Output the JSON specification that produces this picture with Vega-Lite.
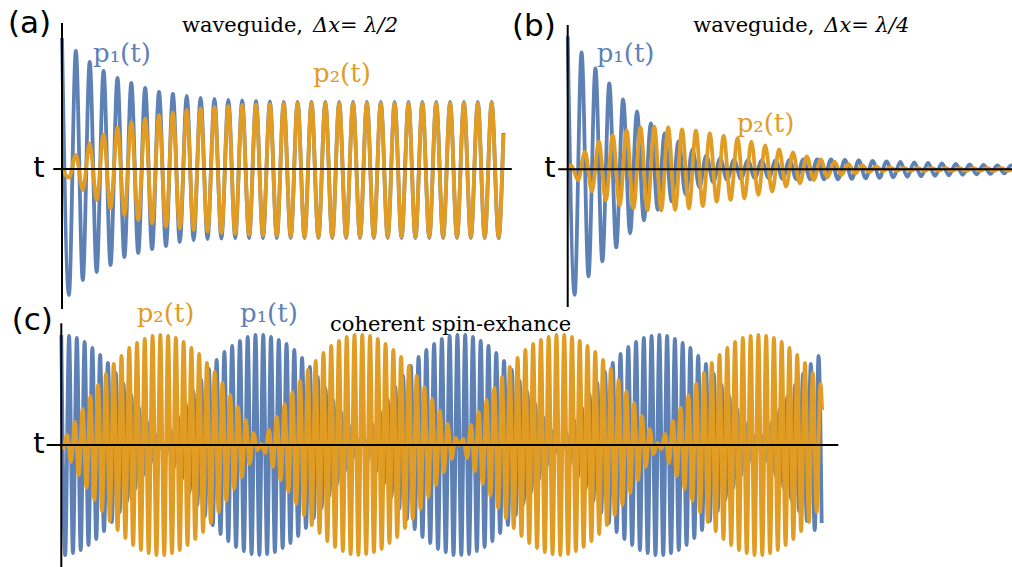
{
"$schema": "https://vega.github.io/schema/vega-lite/v6.json",
"width": 1012,
"height": 567,
"padding": 0,
"autosize": {"type": "none"},
"config": {"view": {"stroke": null}, "line": {"interpolate": "monotone", "strokeWidth": 3.8}, "rule": {"strokeWidth": 2, "color": "black"}},
"resolve": {"scale": {"x": "independent", "y": "independent"}},
"datasets": {
"a1": [{"t":0,"v":131},{"t":0.5,"v":-126},{"t":1,"v":118},{"t":1.5,"v":-111},{"t":2,"v":107},{"t":2.5,"v":-103},{"t":3,"v":98},{"t":3.5,"v":-96},{"t":4,"v":91},{"t":4.5,"v":-88},{"t":5,"v":86},{"t":5.5,"v":-84},{"t":6,"v":81},{"t":6.5,"v":-80},{"t":7,"v":77},{"t":7.5,"v":-77},{"t":8,"v":75},{"t":8.5,"v":-73},{"t":9,"v":73},{"t":9.5,"v":-71},{"t":10,"v":71},{"t":10.5,"v":-70},{"t":11,"v":70},{"t":11.5,"v":-69.5},{"t":12,"v":69},{"t":12.5,"v":-69},{"t":13,"v":68.5},{"t":13.5,"v":-69},{"t":14,"v":68},{"t":14.5,"v":-69},{"t":15,"v":67.5},{"t":15.5,"v":-69},{"t":16,"v":67},{"t":16.5,"v":-69},{"t":17,"v":67},{"t":17.5,"v":-69},{"t":18,"v":67},{"t":18.5,"v":-69},{"t":19,"v":67},{"t":19.5,"v":-69},{"t":20,"v":67},{"t":20.5,"v":-69},{"t":21,"v":67},{"t":21.5,"v":-69},{"t":22,"v":67},{"t":22.5,"v":-69},{"t":23,"v":67},{"t":23.5,"v":-69},{"t":24,"v":67},{"t":24.5,"v":-69},{"t":25,"v":67},{"t":25.5,"v":-69},{"t":26,"v":67},{"t":26.5,"v":-69},{"t":27,"v":67},{"t":27.5,"v":-69},{"t":28,"v":67},{"t":28.5,"v":-69},{"t":29,"v":67},{"t":29.5,"v":-69},{"t":30,"v":67},{"t":30.5,"v":-69},{"t":31,"v":67},{"t":31.5,"v":-69},{"t":31.85,"v":36}],
"a2": [{"t":0,"v":0},{"t":0.5,"v":-8.7},{"t":1,"v":14},{"t":1.5,"v":-21},{"t":2,"v":25.7},{"t":2.5,"v":-31},{"t":3,"v":34.7},{"t":3.5,"v":-39.3},{"t":4,"v":41.3},{"t":4.5,"v":-46},{"t":5,"v":46.7},{"t":5.5,"v":-51},{"t":6,"v":50.7},{"t":6.5,"v":-54.3},{"t":7,"v":54},{"t":7.5,"v":-57.7},{"t":8,"v":56.7},{"t":8.5,"v":-59.3},{"t":9,"v":59},{"t":9.5,"v":-61},{"t":10,"v":60.7},{"t":10.5,"v":-62.7},{"t":11,"v":62},{"t":11.5,"v":-64},{"t":12,"v":63},{"t":12.5,"v":-65},{"t":13,"v":64},{"t":13.5,"v":-66},{"t":14,"v":64.5},{"t":14.5,"v":-66.5},{"t":15,"v":65},{"t":15.5,"v":-67},{"t":16,"v":65.5},{"t":16.5,"v":-67.5},{"t":17,"v":66},{"t":17.5,"v":-68},{"t":18,"v":66},{"t":18.5,"v":-68},{"t":19,"v":66},{"t":19.5,"v":-68},{"t":20,"v":66},{"t":20.5,"v":-68},{"t":21,"v":66},{"t":21.5,"v":-68},{"t":22,"v":66},{"t":22.5,"v":-68},{"t":23,"v":66},{"t":23.5,"v":-68},{"t":24,"v":66},{"t":24.5,"v":-68},{"t":25,"v":66},{"t":25.5,"v":-68},{"t":26,"v":66},{"t":26.5,"v":-68},{"t":27,"v":66},{"t":27.5,"v":-68},{"t":28,"v":66},{"t":28.5,"v":-68},{"t":29,"v":66},{"t":29.5,"v":-68},{"t":30,"v":66},{"t":30.5,"v":-68},{"t":31,"v":66},{"t":31.5,"v":-68},{"t":31.85,"v":35}],
"b1": [{"t":0,"v":133},{"t":0.5,"v":-125.5},{"t":1,"v":117},{"t":1.5,"v":-107},{"t":2,"v":101},{"t":2.5,"v":-92},{"t":3,"v":86},{"t":3.5,"v":-78},{"t":4,"v":70},{"t":4.5,"v":-64},{"t":5,"v":58},{"t":5.5,"v":-51},{"t":6,"v":46},{"t":6.5,"v":-40.5},{"t":7,"v":36},{"t":7.5,"v":-32},{"t":8,"v":28},{"t":8.5,"v":-25},{"t":9,"v":20},{"t":9.5,"v":-18},{"t":10,"v":14},{"t":10.5,"v":-13},{"t":11,"v":11},{"t":11.5,"v":-10.5},{"t":12,"v":9.5},{"t":12.5,"v":-9.5},{"t":13,"v":9},{"t":13.5,"v":-9},{"t":14,"v":9},{"t":14.5,"v":-9},{"t":15,"v":9},{"t":15.5,"v":-9.5},{"t":16,"v":9.5},{"t":16.5,"v":-10},{"t":17,"v":10},{"t":17.5,"v":-10},{"t":18,"v":10},{"t":18.5,"v":-10},{"t":19,"v":10},{"t":19.5,"v":-10},{"t":20,"v":9.5},{"t":20.5,"v":-9.5},{"t":21,"v":9},{"t":21.5,"v":-9},{"t":22,"v":8.5},{"t":22.5,"v":-8.5},{"t":23,"v":8},{"t":23.5,"v":-8},{"t":24,"v":7.5},{"t":24.5,"v":-7.5},{"t":25,"v":7},{"t":25.5,"v":-7},{"t":26,"v":6.5},{"t":26.5,"v":-6.5},{"t":27,"v":6},{"t":27.5,"v":-6},{"t":28,"v":5.5},{"t":28.5,"v":-5.5},{"t":29,"v":5},{"t":29.5,"v":-5},{"t":30,"v":4.5},{"t":30.5,"v":-4.5},{"t":31,"v":4},{"t":31.5,"v":-4},{"t":32,"v":4},{"t":32.05,"v":4}],
"b2": [{"t":0,"v":0},{"t":0.25,"v":4},{"t":0.75,"v":-11},{"t":1.25,"v":17.6},{"t":1.75,"v":-22},{"t":2.25,"v":27.6},{"t":2.75,"v":-31},{"t":3.25,"v":34},{"t":3.75,"v":-36},{"t":4.25,"v":39},{"t":4.75,"v":-39},{"t":5.25,"v":42},{"t":5.75,"v":-41},{"t":6.25,"v":42.6},{"t":6.75,"v":-41},{"t":7.25,"v":42},{"t":7.75,"v":-40.5},{"t":8.25,"v":40},{"t":8.75,"v":-39},{"t":9.25,"v":38.6},{"t":9.75,"v":-36.7},{"t":10.25,"v":36},{"t":10.75,"v":-32.3},{"t":11.25,"v":33.5},{"t":11.75,"v":-30.6},{"t":12.25,"v":31},{"t":12.75,"v":-29},{"t":13.25,"v":27.6},{"t":13.75,"v":-25.6},{"t":14.25,"v":24},{"t":14.75,"v":-22.3},{"t":15.25,"v":20},{"t":15.75,"v":-17.3},{"t":16.25,"v":17},{"t":16.75,"v":-14},{"t":17.25,"v":13},{"t":17.75,"v":-10.7},{"t":18.25,"v":10},{"t":18.75,"v":-8},{"t":19.25,"v":7.6},{"t":19.75,"v":-5.7},{"t":20.25,"v":5.3},{"t":20.75,"v":-4},{"t":21.25,"v":4},{"t":21.75,"v":-3},{"t":22.25,"v":3},{"t":22.75,"v":-2},{"t":23.25,"v":2},{"t":23.75,"v":-1.5},{"t":24.25,"v":1.5},{"t":24.75,"v":-1.5},{"t":25.25,"v":1.5},{"t":25.75,"v":-1.5},{"t":26.25,"v":1.5},{"t":26.75,"v":-1.5},{"t":27.25,"v":1.5},{"t":27.75,"v":-1.5},{"t":28.25,"v":1.5},{"t":28.75,"v":-1.5},{"t":29.25,"v":1.5},{"t":29.75,"v":-1.5},{"t":30.25,"v":1.5},{"t":30.75,"v":-1.5},{"t":31.25,"v":1.5},{"t":31.75,"v":-1.5},{"t":32.05,"v":0}],
"c1": [{"t":0,"v":110},{"t":0.5,"v":-110},{"t":1,"v":109},{"t":1.5,"v":-108},{"t":2,"v":107},{"t":2.5,"v":-105},{"t":3,"v":103},{"t":3.5,"v":-100},{"t":4,"v":97},{"t":4.5,"v":-94},{"t":5,"v":90},{"t":5.5,"v":-86},{"t":6,"v":82},{"t":6.5,"v":-77},{"t":7,"v":72},{"t":7.5,"v":-67},{"t":8,"v":61},{"t":8.5,"v":-56},{"t":9,"v":50},{"t":9.5,"v":-44},{"t":10,"v":37},{"t":10.5,"v":-31},{"t":11,"v":24},{"t":11.5,"v":-18},{"t":12,"v":11},{"t":12.5,"v":-4},{"t":13,"v":2},{"t":13.5,"v":-9},{"t":14,"v":16},{"t":14.5,"v":-22},{"t":15,"v":29},{"t":15.5,"v":-35},{"t":16,"v":42},{"t":16.5,"v":-48},{"t":17,"v":54},{"t":17.5,"v":-60},{"t":18,"v":65},{"t":18.5,"v":-71},{"t":19,"v":76},{"t":19.5,"v":-80},{"t":20,"v":85},{"t":20.5,"v":-89},{"t":21,"v":93},{"t":21.5,"v":-96},{"t":22,"v":99},{"t":22.5,"v":-102},{"t":23,"v":104},{"t":23.5,"v":-106},{"t":24,"v":108},{"t":24.5,"v":-109},{"t":25,"v":110},{"t":25.5,"v":-110},{"t":26,"v":110},{"t":26.5,"v":-109},{"t":27,"v":108},{"t":27.5,"v":-107},{"t":28,"v":105},{"t":28.5,"v":-103},{"t":29,"v":101},{"t":29.5,"v":-98},{"t":30,"v":95},{"t":30.5,"v":-91},{"t":31,"v":87},{"t":31.5,"v":-83},{"t":32,"v":78},{"t":32.5,"v":-73},{"t":33,"v":68},{"t":33.5,"v":-63},{"t":34,"v":57},{"t":34.5,"v":-51},{"t":35,"v":45},{"t":35.5,"v":-39},{"t":36,"v":33},{"t":36.5,"v":-26},{"t":37,"v":20},{"t":37.5,"v":-13},{"t":38,"v":6},{"t":38.5,"v":-1},{"t":39,"v":7},{"t":39.5,"v":-14},{"t":40,"v":21},{"t":40.5,"v":-27},{"t":41,"v":34},{"t":41.5,"v":-40},{"t":42,"v":46},{"t":42.5,"v":-52},{"t":43,"v":58},{"t":43.5,"v":-64},{"t":44,"v":69},{"t":44.5,"v":-74},{"t":45,"v":79},{"t":45.5,"v":-84},{"t":46,"v":88},{"t":46.5,"v":-92},{"t":47,"v":95},{"t":47.5,"v":-98},{"t":48,"v":101},{"t":48.5,"v":-104},{"t":49,"v":106},{"t":49.5,"v":-107},{"t":50,"v":109},{"t":50.5,"v":-110},{"t":51,"v":110},{"t":51.5,"v":-110},{"t":52,"v":110},{"t":52.5,"v":-109},{"t":53,"v":108},{"t":53.5,"v":-106},{"t":54,"v":104},{"t":54.5,"v":-102},{"t":55,"v":99},{"t":55.5,"v":-96},{"t":56,"v":92},{"t":56.5,"v":-88},{"t":57,"v":84},{"t":57.5,"v":-80},{"t":58,"v":75},{"t":58.5,"v":-70},{"t":59,"v":64},{"t":59.5,"v":-59},{"t":60,"v":53},{"t":60.5,"v":-47},{"t":61,"v":41},{"t":61.5,"v":-34},{"t":62,"v":28},{"t":62.5,"v":-21},{"t":63,"v":15},{"t":63.5,"v":-8},{"t":64,"v":1},{"t":64.5,"v":-5},{"t":65,"v":12},{"t":65.5,"v":-19},{"t":66,"v":25},{"t":66.5,"v":-32},{"t":67,"v":38},{"t":67.5,"v":-44},{"t":68,"v":51},{"t":68.5,"v":-56},{"t":69,"v":62},{"t":69.5,"v":-68},{"t":70,"v":73},{"t":70.5,"v":-78},{"t":71,"v":82},{"t":71.5,"v":-87},{"t":72,"v":91},{"t":72.5,"v":-94},{"t":73,"v":98},{"t":73.5,"v":-100},{"t":74,"v":103},{"t":74.5,"v":-105},{"t":75,"v":107},{"t":75.5,"v":-108},{"t":76,"v":109},{"t":76.5,"v":-110},{"t":77,"v":110},{"t":77.5,"v":-110},{"t":78,"v":109},{"t":78.5,"v":-108},{"t":79,"v":106},{"t":79.5,"v":-105},{"t":80,"v":102},{"t":80.5,"v":-100},{"t":81,"v":97},{"t":81.5,"v":-93},{"t":82,"v":89},{"t":82.5,"v":-85},{"t":83,"v":81},{"t":83.5,"v":-76},{"t":84,"v":71},{"t":84.5,"v":-66},{"t":85,"v":60},{"t":85.5,"v":-55},{"t":86,"v":49},{"t":86.5,"v":-43},{"t":87,"v":36},{"t":87.5,"v":-30},{"t":88,"v":23},{"t":88.5,"v":-17},{"t":89,"v":10},{"t":89.5,"v":-3},{"t":90,"v":-3},{"t":90.5,"v":10},{"t":91,"v":-17},{"t":91.5,"v":23},{"t":92,"v":-30},{"t":92.5,"v":36},{"t":93,"v":-43},{"t":93.5,"v":49},{"t":94,"v":-55},{"t":94.5,"v":60},{"t":95,"v":-66},{"t":95.5,"v":71},{"t":96,"v":-76},{"t":96.5,"v":81},{"t":97,"v":-85},{"t":97.5,"v":89},{"t":97.9,"v":-78}],
"c2": [{"t":0,"v":0},{"t":0.25,"v":-3},{"t":0.75,"v":10},{"t":1.25,"v":-17},{"t":1.75,"v":23},{"t":2.25,"v":-30},{"t":2.75,"v":36},{"t":3.25,"v":-43},{"t":3.75,"v":49},{"t":4.25,"v":-55},{"t":4.75,"v":60},{"t":5.25,"v":-66},{"t":5.75,"v":71},{"t":6.25,"v":-76},{"t":6.75,"v":81},{"t":7.25,"v":-85},{"t":7.75,"v":89},{"t":8.25,"v":-93},{"t":8.75,"v":97},{"t":9.25,"v":-100},{"t":9.75,"v":102},{"t":10.25,"v":-105},{"t":10.75,"v":106},{"t":11.25,"v":-108},{"t":11.75,"v":109},{"t":12.25,"v":-110},{"t":12.75,"v":110},{"t":13.25,"v":-110},{"t":13.75,"v":109},{"t":14.25,"v":-108},{"t":14.75,"v":107},{"t":15.25,"v":-105},{"t":15.75,"v":103},{"t":16.25,"v":-100},{"t":16.75,"v":97},{"t":17.25,"v":-94},{"t":17.75,"v":91},{"t":18.25,"v":-87},{"t":18.75,"v":82},{"t":19.25,"v":-78},{"t":19.75,"v":73},{"t":20.25,"v":-67},{"t":20.75,"v":62},{"t":21.25,"v":-56},{"t":21.75,"v":50},{"t":22.25,"v":-44},{"t":22.75,"v":38},{"t":23.25,"v":-32},{"t":23.75,"v":25},{"t":24.25,"v":-19},{"t":24.75,"v":12},{"t":25.25,"v":-5},{"t":25.75,"v":1},{"t":26.25,"v":-8},{"t":26.75,"v":15},{"t":27.25,"v":-22},{"t":27.75,"v":28},{"t":28.25,"v":-35},{"t":28.75,"v":41},{"t":29.25,"v":-47},{"t":29.75,"v":53},{"t":30.25,"v":-59},{"t":30.75,"v":64},{"t":31.25,"v":-70},{"t":31.75,"v":75},{"t":32.25,"v":-80},{"t":32.75,"v":84},{"t":33.25,"v":-88},{"t":33.75,"v":92},{"t":34.25,"v":-96},{"t":34.75,"v":99},{"t":35.25,"v":-102},{"t":35.75,"v":104},{"t":36.25,"v":-106},{"t":36.75,"v":108},{"t":37.25,"v":-109},{"t":37.75,"v":110},{"t":38.25,"v":-110},{"t":38.75,"v":110},{"t":39.25,"v":-109},{"t":39.75,"v":109},{"t":40.25,"v":-107},{"t":40.75,"v":106},{"t":41.25,"v":-104},{"t":41.75,"v":101},{"t":42.25,"v":-98},{"t":42.75,"v":95},{"t":43.25,"v":-92},{"t":43.75,"v":88},{"t":44.25,"v":-83},{"t":44.75,"v":79},{"t":45.25,"v":-74},{"t":45.75,"v":69},{"t":46.25,"v":-64},{"t":46.75,"v":58},{"t":47.25,"v":-52},{"t":47.75,"v":46},{"t":48.25,"v":-40},{"t":48.75,"v":34},{"t":49.25,"v":-27},{"t":49.75,"v":21},{"t":50.25,"v":-14},{"t":50.75,"v":7},{"t":51.25,"v":0},{"t":51.75,"v":6},{"t":52.25,"v":-13},{"t":52.75,"v":20},{"t":53.25,"v":-26},{"t":53.75,"v":33},{"t":54.25,"v":-39},{"t":54.75,"v":45},{"t":55.25,"v":-51},{"t":55.75,"v":57},{"t":56.25,"v":-63},{"t":56.75,"v":68},{"t":57.25,"v":-73},{"t":57.75,"v":78},{"t":58.25,"v":-83},{"t":58.75,"v":87},{"t":59.25,"v":-91},{"t":59.75,"v":95},{"t":60.25,"v":-98},{"t":60.75,"v":101},{"t":61.25,"v":-103},{"t":61.75,"v":105},{"t":62.25,"v":-107},{"t":62.75,"v":108},{"t":63.25,"v":-109},{"t":63.75,"v":110},{"t":64.25,"v":-110},{"t":64.75,"v":110},{"t":65.25,"v":-109},{"t":65.75,"v":108},{"t":66.25,"v":-106},{"t":66.75,"v":104},{"t":67.25,"v":-102},{"t":67.75,"v":99},{"t":68.25,"v":-96},{"t":68.75,"v":93},{"t":69.25,"v":-89},{"t":69.75,"v":85},{"t":70.25,"v":-80},{"t":70.75,"v":76},{"t":71.25,"v":-70},{"t":71.75,"v":65},{"t":72.25,"v":-60},{"t":72.75,"v":54},{"t":73.25,"v":-48},{"t":73.75,"v":42},{"t":74.25,"v":-35},{"t":74.75,"v":29},{"t":75.25,"v":-22},{"t":75.75,"v":16},{"t":76.25,"v":-9},{"t":76.75,"v":2},{"t":77.25,"v":-4},{"t":77.75,"v":11},{"t":78.25,"v":-18},{"t":78.75,"v":24},{"t":79.25,"v":-31},{"t":79.75,"v":37},{"t":80.25,"v":-44},{"t":80.75,"v":50},{"t":81.25,"v":-56},{"t":81.75,"v":61},{"t":82.25,"v":-67},{"t":82.75,"v":72},{"t":83.25,"v":-77},{"t":83.75,"v":82},{"t":84.25,"v":-86},{"t":84.75,"v":90},{"t":85.25,"v":-94},{"t":85.75,"v":97},{"t":86.25,"v":-100},{"t":86.75,"v":103},{"t":87.25,"v":-105},{"t":87.75,"v":107},{"t":88.25,"v":-108},{"t":88.75,"v":109},{"t":89.25,"v":-110},{"t":89.75,"v":110},{"t":90.25,"v":-110},{"t":90.75,"v":109},{"t":91.25,"v":-108},{"t":91.75,"v":107},{"t":92.25,"v":-105},{"t":92.75,"v":103},{"t":93.25,"v":-100},{"t":93.75,"v":97},{"t":94.25,"v":-94},{"t":94.75,"v":90},{"t":95.25,"v":-86},{"t":95.75,"v":82},{"t":96.25,"v":-77},{"t":96.75,"v":72},{"t":97.25,"v":-67},{"t":97.75,"v":61},{"t":97.95,"v":35}]
},
"layer": [
{"data": {"name": "a1"}, "mark": {"type": "line", "color": "#5E81B5"}, "encoding": {"x": {"field": "t", "type": "quantitative", "scale": {"domain": [-4.4733, 68.5426], "nice": false, "zero": false}, "axis": null}, "y": {"field": "v", "type": "quantitative", "scale": {"domain": [-398, 169], "nice": false, "zero": false}, "axis": null}}},
{"data": {"name": "a2"}, "mark": {"type": "line", "color": "#E19C24"}, "encoding": {"x": {"field": "t", "type": "quantitative", "scale": {"domain": [-4.4733, 68.5426], "nice": false, "zero": false}, "axis": null}, "y": {"field": "v", "type": "quantitative", "scale": {"domain": [-398, 169], "nice": false, "zero": false}, "axis": null}}},
{"data": {"values": [{}]}, "mark": {"type": "rule"}, "encoding": {"x": {"datum": 0, "type": "quantitative", "scale": {"domain": [-4.4733, 68.5426], "nice": false, "zero": false}, "axis": null}, "y": {"datum": 146, "type": "quantitative", "scale": {"domain": [-398, 169], "nice": false, "zero": false}, "axis": null}, "y2": {"datum": -140}}},
{"data": {"values": [{}]}, "mark": {"type": "rule"}, "encoding": {"x": {"datum": -0.63, "type": "quantitative", "scale": {"domain": [-4.4733, 68.5426], "nice": false, "zero": false}, "axis": null}, "x2": {"datum": 32.45}, "y": {"datum": 0, "type": "quantitative", "scale": {"domain": [-398, 169], "nice": false, "zero": false}, "axis": null}}},
{"data": {"values": [{}]}, "mark": {"type": "text", "text": "(a)", "font": "DejaVu Sans", "fontSize": 31, "align": "left", "baseline": "middle", "color": "black"}, "encoding": {"x": {"datum": -3.896, "type": "quantitative", "scale": {"domain": [-4.4733, 68.5426], "nice": false, "zero": false}, "axis": null}, "y": {"datum": 145, "type": "quantitative", "scale": {"domain": [-398, 169], "nice": false, "zero": false}, "axis": null}}},
{"data": {"values": [{}]}, "mark": {"type": "text", "text": "t", "font": "DejaVu Sans", "fontSize": 29, "align": "center", "baseline": "alphabetic", "color": "black"}, "encoding": {"x": {"datum": -1.66, "type": "quantitative", "scale": {"domain": [-4.4733, 68.5426], "nice": false, "zero": false}, "axis": null}, "y": {"datum": -7.7, "type": "quantitative", "scale": {"domain": [-398, 169], "nice": false, "zero": false}, "axis": null}}},
{"data": {"values": [{}]}, "mark": {"type": "text", "text": "p₁(t)", "font": "DejaVu Serif", "fontSize": 26, "align": "left", "baseline": "alphabetic", "color": "#5E81B5"}, "encoding": {"x": {"datum": 2.237, "type": "quantitative", "scale": {"domain": [-4.4733, 68.5426], "nice": false, "zero": false}, "axis": null}, "y": {"datum": 107, "type": "quantitative", "scale": {"domain": [-398, 169], "nice": false, "zero": false}, "axis": null}}},
{"data": {"values": [{}]}, "mark": {"type": "text", "text": "p₂(t)", "font": "DejaVu Serif", "fontSize": 26, "align": "left", "baseline": "alphabetic", "color": "#E19C24"}, "encoding": {"x": {"datum": 18.11, "type": "quantitative", "scale": {"domain": [-4.4733, 68.5426], "nice": false, "zero": false}, "axis": null}, "y": {"datum": 87, "type": "quantitative", "scale": {"domain": [-398, 169], "nice": false, "zero": false}, "axis": null}}},
{"data": {"values": [{}]}, "mark": {"type": "text", "text": "waveguide,", "font": "DejaVu Serif", "fontSize": 21, "align": "left", "baseline": "alphabetic", "color": "black"}, "encoding": {"x": {"datum": 8.658, "type": "quantitative", "scale": {"domain": [-4.4733, 68.5426], "nice": false, "zero": false}, "axis": null}, "y": {"datum": 137.3, "type": "quantitative", "scale": {"domain": [-398, 169], "nice": false, "zero": false}, "axis": null}}},
{"data": {"values": [{}]}, "mark": {"type": "text", "text": "Δx=  λ/2", "font": "DejaVu Serif", "fontStyle": "italic", "fontSize": 21, "align": "left", "baseline": "alphabetic", "color": "black"}, "encoding": {"x": {"datum": 18.11, "type": "quantitative", "scale": {"domain": [-4.4733, 68.5426], "nice": false, "zero": false}, "axis": null}, "y": {"datum": 137.3, "type": "quantitative", "scale": {"domain": [-398, 169], "nice": false, "zero": false}, "axis": null}}},
{"data": {"name": "b1"}, "mark": {"type": "line", "color": "#5E81B5"}, "encoding": {"x": {"field": "t", "type": "quantitative", "scale": {"domain": [-40.9596, 32.0563], "nice": false, "zero": false}, "axis": null}, "y": {"field": "v", "type": "quantitative", "scale": {"domain": [-397.7, 169.3], "nice": false, "zero": false}, "axis": null}}},
{"data": {"name": "b2"}, "mark": {"type": "line", "color": "#E19C24"}, "encoding": {"x": {"field": "t", "type": "quantitative", "scale": {"domain": [-40.9596, 32.0563], "nice": false, "zero": false}, "axis": null}, "y": {"field": "v", "type": "quantitative", "scale": {"domain": [-397.7, 169.3], "nice": false, "zero": false}, "axis": null}}},
{"data": {"values": [{}]}, "mark": {"type": "rule"}, "encoding": {"x": {"datum": 0, "type": "quantitative", "scale": {"domain": [-40.9596, 32.0563], "nice": false, "zero": false}, "axis": null}, "y": {"datum": 144.3, "type": "quantitative", "scale": {"domain": [-397.7, 169.3], "nice": false, "zero": false}, "axis": null}, "y2": {"datum": -137.7}}},
{"data": {"values": [{}]}, "mark": {"type": "rule"}, "encoding": {"x": {"datum": -0.68, "type": "quantitative", "scale": {"domain": [-40.9596, 32.0563], "nice": false, "zero": false}, "axis": null}, "x2": {"datum": 32.06}, "y": {"datum": 0, "type": "quantitative", "scale": {"domain": [-397.7, 169.3], "nice": false, "zero": false}, "axis": null}}},
{"data": {"values": [{}]}, "mark": {"type": "text", "text": "(b)", "font": "DejaVu Sans", "fontSize": 31, "align": "left", "baseline": "middle", "color": "black"}, "encoding": {"x": {"datum": -4.019, "type": "quantitative", "scale": {"domain": [-40.9596, 32.0563], "nice": false, "zero": false}, "axis": null}, "y": {"datum": 142.6, "type": "quantitative", "scale": {"domain": [-397.7, 169.3], "nice": false, "zero": false}, "axis": null}}},
{"data": {"values": [{}]}, "mark": {"type": "text", "text": "t", "font": "DejaVu Sans", "fontSize": 29, "align": "center", "baseline": "alphabetic", "color": "black"}, "encoding": {"x": {"datum": -1.277, "type": "quantitative", "scale": {"domain": [-40.9596, 32.0563], "nice": false, "zero": false}, "axis": null}, "y": {"datum": -7.4, "type": "quantitative", "scale": {"domain": [-397.7, 169.3], "nice": false, "zero": false}, "axis": null}}},
{"data": {"values": [{}]}, "mark": {"type": "text", "text": "p₁(t)", "font": "DejaVu Serif", "fontSize": 26, "align": "left", "baseline": "alphabetic", "color": "#5E81B5"}, "encoding": {"x": {"datum": 2.09, "type": "quantitative", "scale": {"domain": [-40.9596, 32.0563], "nice": false, "zero": false}, "axis": null}, "y": {"datum": 107.6, "type": "quantitative", "scale": {"domain": [-397.7, 169.3], "nice": false, "zero": false}, "axis": null}}},
{"data": {"values": [{}]}, "mark": {"type": "text", "text": "p₂(t)", "font": "DejaVu Serif", "fontSize": 26, "align": "left", "baseline": "alphabetic", "color": "#E19C24"}, "encoding": {"x": {"datum": 12.19, "type": "quantitative", "scale": {"domain": [-40.9596, 32.0563], "nice": false, "zero": false}, "axis": null}, "y": {"datum": 37.6, "type": "quantitative", "scale": {"domain": [-397.7, 169.3], "nice": false, "zero": false}, "axis": null}}},
{"data": {"values": [{}]}, "mark": {"type": "text", "text": "waveguide,", "font": "DejaVu Serif", "fontSize": 21, "align": "left", "baseline": "alphabetic", "color": "black"}, "encoding": {"x": {"datum": 9.062, "type": "quantitative", "scale": {"domain": [-40.9596, 32.0563], "nice": false, "zero": false}, "axis": null}, "y": {"datum": 137.6, "type": "quantitative", "scale": {"domain": [-397.7, 169.3], "nice": false, "zero": false}, "axis": null}}},
{"data": {"values": [{}]}, "mark": {"type": "text", "text": "Δx=  λ/4", "font": "DejaVu Serif", "fontStyle": "italic", "fontSize": 21, "align": "left", "baseline": "alphabetic", "color": "black"}, "encoding": {"x": {"datum": 18.51, "type": "quantitative", "scale": {"domain": [-40.9596, 32.0563], "nice": false, "zero": false}, "axis": null}, "y": {"datum": 137.6, "type": "quantitative", "scale": {"domain": [-397.7, 169.3], "nice": false, "zero": false}, "axis": null}}},
{"data": {"name": "c1"}, "mark": {"type": "line", "color": "#5E81B5"}, "encoding": {"x": {"field": "t", "type": "quantitative", "scale": {"domain": [-7.8924, 122.4025], "nice": false, "zero": false}, "axis": null}, "y": {"field": "v", "type": "quantitative", "scale": {"domain": [-122, 445], "nice": false, "zero": false}, "axis": null}}},
{"data": {"name": "c2"}, "mark": {"type": "line", "color": "#E19C24"}, "encoding": {"x": {"field": "t", "type": "quantitative", "scale": {"domain": [-7.8924, 122.4025], "nice": false, "zero": false}, "axis": null}, "y": {"field": "v", "type": "quantitative", "scale": {"domain": [-122, 445], "nice": false, "zero": false}, "axis": null}}},
{"data": {"values": [{}]}, "mark": {"type": "rule"}, "encoding": {"x": {"datum": 0, "type": "quantitative", "scale": {"domain": [-7.8924, 122.4025], "nice": false, "zero": false}, "axis": null}, "y": {"datum": 121.7, "type": "quantitative", "scale": {"domain": [-122, 445], "nice": false, "zero": false}, "axis": null}, "y2": {"datum": -122}}},
{"data": {"values": [{}]}, "mark": {"type": "rule"}, "encoding": {"x": {"datum": -1.88, "type": "quantitative", "scale": {"domain": [-7.8924, 122.4025], "nice": false, "zero": false}, "axis": null}, "x2": {"datum": 100.04}, "y": {"datum": 0, "type": "quantitative", "scale": {"domain": [-122, 445], "nice": false, "zero": false}, "axis": null}}},
{"data": {"values": [{}]}, "mark": {"type": "text", "text": "(c)", "font": "DejaVu Sans", "fontSize": 31, "align": "left", "baseline": "middle", "color": "black"}, "encoding": {"x": {"datum": -6.386, "type": "quantitative", "scale": {"domain": [-7.8924, 122.4025], "nice": false, "zero": false}, "axis": null}, "y": {"datum": 124.3, "type": "quantitative", "scale": {"domain": [-122, 445], "nice": false, "zero": false}, "axis": null}}},
{"data": {"values": [{}]}, "mark": {"type": "text", "text": "t", "font": "DejaVu Sans", "fontSize": 29, "align": "center", "baseline": "alphabetic", "color": "black"}, "encoding": {"x": {"datum": -2.871, "type": "quantitative", "scale": {"domain": [-7.8924, 122.4025], "nice": false, "zero": false}, "axis": null}, "y": {"datum": -8.3, "type": "quantitative", "scale": {"domain": [-122, 445], "nice": false, "zero": false}, "axis": null}}},
{"data": {"values": [{}]}, "mark": {"type": "text", "text": "p₂(t)", "font": "DejaVu Serif", "fontSize": 26, "align": "left", "baseline": "alphabetic", "color": "#E19C24"}, "encoding": {"x": {"datum": 9.708, "type": "quantitative", "scale": {"domain": [-7.8924, 122.4025], "nice": false, "zero": false}, "axis": null}, "y": {"datum": 123.3, "type": "quantitative", "scale": {"domain": [-122, 445], "nice": false, "zero": false}, "axis": null}}},
{"data": {"values": [{}]}, "mark": {"type": "text", "text": "p₁(t)", "font": "DejaVu Serif", "fontSize": 26, "align": "left", "baseline": "alphabetic", "color": "#5E81B5"}, "encoding": {"x": {"datum": 23.01, "type": "quantitative", "scale": {"domain": [-7.8924, 122.4025], "nice": false, "zero": false}, "axis": null}, "y": {"datum": 123.3, "type": "quantitative", "scale": {"domain": [-122, 445], "nice": false, "zero": false}, "axis": null}}},
{"data": {"values": [{}]}, "mark": {"type": "text", "text": "coherent spin-exhance", "font": "DejaVu Serif", "fontSize": 21, "align": "left", "baseline": "alphabetic", "color": "black"}, "encoding": {"x": {"datum": 34.6, "type": "quantitative", "scale": {"domain": [-7.8924, 122.4025], "nice": false, "zero": false}, "axis": null}, "y": {"datum": 114, "type": "quantitative", "scale": {"domain": [-122, 445], "nice": false, "zero": false}, "axis": null}}}
]
}
